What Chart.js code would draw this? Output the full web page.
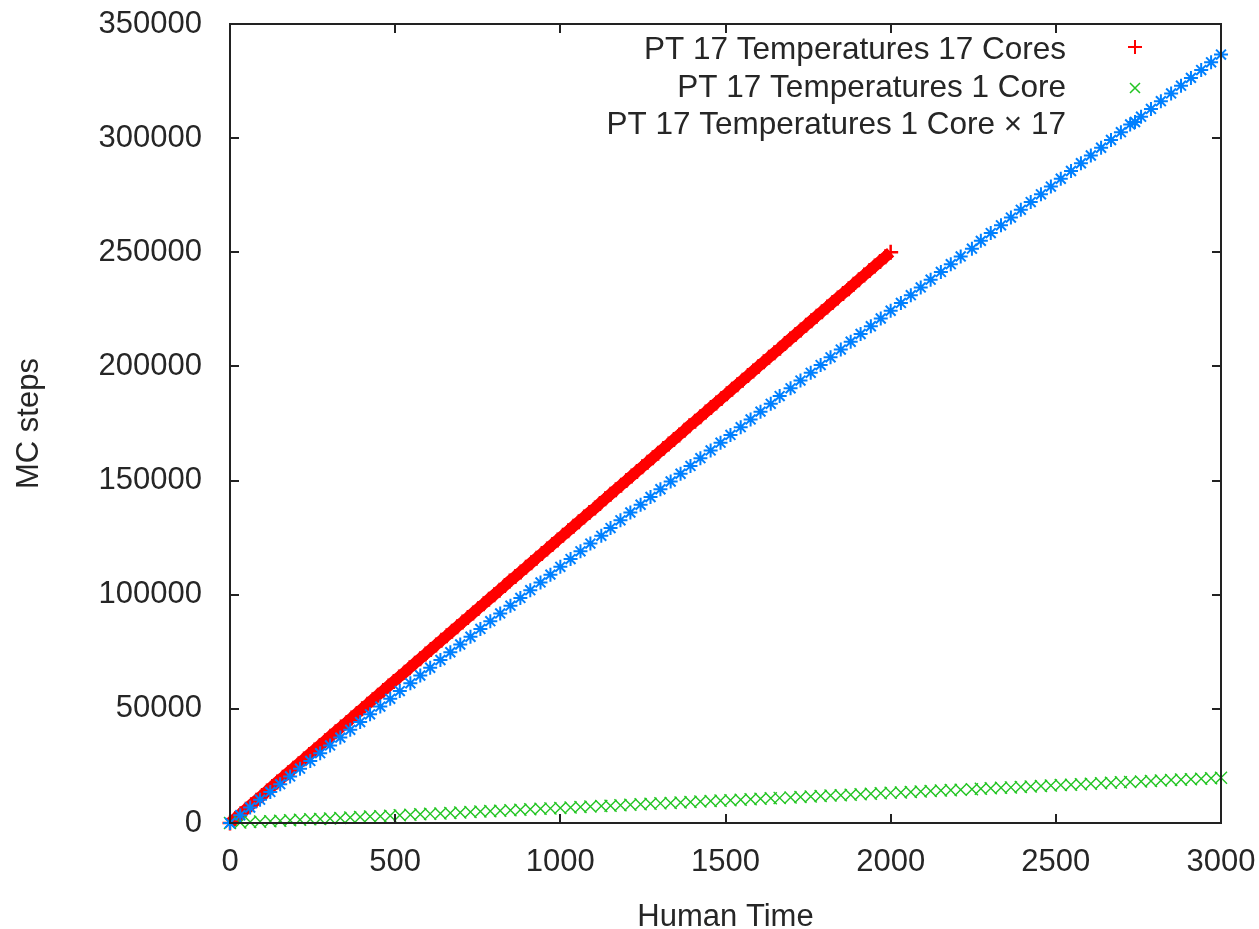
<!DOCTYPE html>
<html>
<head>
<meta charset="utf-8">
<script src="https://cdn.jsdelivr.net/npm/chart.js@4/dist/chart.umd.min.js"></script>
<style>
  html, body { margin: 0; background: #fff; }
  #wrap { width: 1259px; height: 929px; }
</style>
</head>
<body>
<div id="wrap"><canvas id="myChart"></canvas></div>
<script>
// 17 cores : temps (s) et pas MC
const coresTime = [
  0, 16, 32, 48, 64, 80, 97, 112, 128, 143,
  160, 176, 192, 208, 224, 240, 256, 272, 288, 304,
  320, 336, 353, 368, 384, 400, 416, 432, 448, 464,
  480, 496, 512, 529, 544, 560, 576, 592, 608, 624,
  640, 656, 672, 688, 704, 720, 736, 752, 768, 784,
  800, 816, 832, 847, 864, 880, 896, 912, 928, 944,
  960, 976, 992, 1008, 1024, 1040, 1056, 1072, 1088, 1105,
  1120, 1136, 1152, 1168, 1184, 1200, 1216, 1232, 1248, 1264,
  1280, 1296, 1312, 1328, 1344, 1360, 1376, 1391, 1408, 1424,
  1440, 1456, 1472, 1488, 1504, 1520, 1536, 1552, 1568, 1584,
  1600, 1616, 1632, 1648, 1665, 1680, 1696, 1712, 1728, 1744,
  1760, 1776, 1792, 1808, 1824, 1840, 1856, 1873, 1888, 1904,
  1920, 1936, 1952, 1968, 1984, 2000
];
const coresSteps = [
  0, 2000, 4000, 6000, 8000, 10000, 12000, 14000, 16000, 18000,
  20000, 22000, 24000, 26000, 28000, 30000, 32000, 34000, 36000, 38000,
  40000, 42000, 44000, 46000, 48000, 50000, 52000, 54000, 56000, 58000,
  60000, 62000, 64000, 66000, 68000, 70000, 72000, 74000, 76000, 78000,
  80000, 82000, 84000, 86000, 88000, 90000, 92000, 94000, 96000, 98000,
  100000, 102000, 104000, 106000, 108000, 110000, 112000, 114000, 116000, 118000,
  120000, 122000, 124000, 126000, 128000, 130000, 132000, 134000, 136000, 138000,
  140000, 142000, 144000, 146000, 148000, 150000, 152000, 154000, 156000, 158000,
  160000, 162000, 164000, 166000, 168000, 170000, 172000, 174000, 176000, 178000,
  180000, 182000, 184000, 186000, 188000, 190000, 192000, 194000, 196000, 198000,
  200000, 202000, 204000, 206000, 208000, 210000, 212000, 214000, 216000, 218000,
  220000, 222000, 224000, 226000, 228000, 230000, 232000, 234000, 236000, 238000,
  240000, 242000, 244000, 246000, 248000, 250000
];

// 1 core : temps (s), pas MC, et pas MC x 17
const oneTime = [
  0, 31, 61, 91, 122, 152, 182, 212, 243, 273,
  303, 334, 364, 394, 424, 455, 485, 514, 546, 576,
  606, 637, 667, 697, 728, 758, 788, 818, 849, 879,
  909, 940, 970, 1000, 1031, 1061, 1091, 1124, 1152, 1182,
  1212, 1243, 1273, 1303, 1334, 1364, 1394, 1424, 1455, 1485,
  1515, 1546, 1576, 1606, 1637, 1664, 1697, 1727, 1758, 1788,
  1818, 1849, 1879, 1909, 1940, 1970, 2000, 2031, 2061, 2091,
  2121, 2152, 2182, 2212, 2246, 2273, 2303, 2334, 2364, 2394,
  2424, 2455, 2485, 2515, 2546, 2576, 2606, 2637, 2667, 2697,
  2725, 2758, 2788, 2818, 2849, 2879, 2909, 2940, 2970, 3000
];
const oneSteps = [
  0, 200, 400, 600, 800, 1000, 1200, 1400, 1600, 1800,
  2000, 2200, 2400, 2600, 2800, 3000, 3200, 3400, 3600, 3800,
  4000, 4200, 4400, 4600, 4800, 5000, 5200, 5400, 5600, 5800,
  6000, 6200, 6400, 6600, 6800, 7000, 7200, 7400, 7600, 7800,
  8000, 8200, 8400, 8600, 8800, 9000, 9200, 9400, 9600, 9800,
  10000, 10200, 10400, 10600, 10800, 11000, 11200, 11400, 11600, 11800,
  12000, 12200, 12400, 12600, 12800, 13000, 13200, 13400, 13600, 13800,
  14000, 14200, 14400, 14600, 14800, 15000, 15200, 15400, 15600, 15800,
  16000, 16200, 16400, 16600, 16800, 17000, 17200, 17400, 17600, 17800,
  18000, 18200, 18400, 18600, 18800, 19000, 19200, 19400, 19600, 19800
];
const oneSteps17 = [
  0, 3400, 6800, 10200, 13600, 17000, 20400, 23800, 27200, 30600,
  34000, 37400, 40800, 44200, 47600, 51000, 54400, 57800, 61200, 64600,
  68000, 71400, 74800, 78200, 81600, 85000, 88400, 91800, 95200, 98600,
  102000, 105400, 108800, 112200, 115600, 119000, 122400, 125800, 129200, 132600,
  136000, 139400, 142800, 146200, 149600, 153000, 156400, 159800, 163200, 166600,
  170000, 173400, 176800, 180200, 183600, 187000, 190400, 193800, 197200, 200600,
  204000, 207400, 210800, 214200, 217600, 221000, 224400, 227800, 231200, 234600,
  238000, 241400, 244800, 248200, 251600, 255000, 258400, 261800, 265200, 268600,
  272000, 275400, 278800, 282200, 285600, 289000, 292400, 295800, 299200, 302600,
  306000, 309400, 312800, 316200, 319600, 323000, 326400, 329800, 333200, 336600
];

const seriesLabels = [
  'PT 17 Temperatures 17 Cores',
  'PT 17 Temperatures 1 Core',
  'PT 17 Temperatures 1 Core \u00d7 17'
];
const seriesColors = ['#ff0000', '#22c422', '#0080ff'];

const xTicks = [0, 500, 1000, 1500, 2000, 2500, 3000];
const yTicks = [0, 50000, 100000, 150000, 200000, 250000, 300000, 350000];

const textColor = '#262626';
const fontFamily = '"Liberation Sans", Arial, sans-serif';

function toPoints(xs, ys) {
  return xs.map((t, i) => ({x: t, y: ys[i]}));
}

// cadre avec graduations vers l'interieur + legende façon gnuplot
const gnuplotFrame = {
  id: 'gnuplotFrame',
  afterDatasetsDraw(chart) {
    const {ctx, chartArea: a, scales} = chart;
    const x = scales.x, y = scales.y;
    ctx.save();
    ctx.strokeStyle = '#222';
    ctx.lineWidth = 2;
    ctx.strokeRect(a.left, a.top, a.right - a.left, a.bottom - a.top);
    ctx.beginPath();
    xTicks.forEach(v => {
      const px = Math.round(x.getPixelForValue(v));
      ctx.moveTo(px, a.bottom); ctx.lineTo(px, a.bottom - 9);
      ctx.moveTo(px, a.top); ctx.lineTo(px, a.top + 9);
    });
    yTicks.forEach(v => {
      const py = Math.round(y.getPixelForValue(v));
      ctx.moveTo(a.left, py); ctx.lineTo(a.left + 9, py);
      ctx.moveTo(a.right, py); ctx.lineTo(a.right - 9, py);
    });
    ctx.stroke();

    // legende
    const textRight = 1066;
    const markX = 1135;
    const rows = [50, 88, 125];
    ctx.font = '31.5px ' + fontFamily;
    ctx.fillStyle = textColor;
    ctx.textAlign = 'right';
    ctx.textBaseline = 'middle';
    seriesLabels.forEach((lab, i) => {
      ctx.fillText(lab, textRight, rows[i]);
    });
    const r = 7, d = 5;
    // +
    ctx.strokeStyle = seriesColors[0];
    ctx.lineWidth = 2;
    ctx.beginPath();
    ctx.moveTo(markX - r, rows[0] - 3); ctx.lineTo(markX + r, rows[0] - 3);
    ctx.moveTo(markX, rows[0] - 3 - r); ctx.lineTo(markX, rows[0] - 3 + r);
    ctx.stroke();
    // x
    ctx.strokeStyle = seriesColors[1];
    ctx.lineWidth = 1.5;
    ctx.beginPath();
    ctx.moveTo(markX - d, rows[1] - d); ctx.lineTo(markX + d, rows[1] + d);
    ctx.moveTo(markX - d, rows[1] + d); ctx.lineTo(markX + d, rows[1] - d);
    ctx.stroke();
    // *
    ctx.strokeStyle = seriesColors[2];
    ctx.lineWidth = 2;
    ctx.beginPath();
    const yb = rows[2] - 3;
    ctx.moveTo(markX - r, yb); ctx.lineTo(markX + r, yb);
    ctx.moveTo(markX, yb - r); ctx.lineTo(markX, yb + r);
    ctx.moveTo(markX - d, yb - d); ctx.lineTo(markX + d, yb + d);
    ctx.moveTo(markX - d, yb + d); ctx.lineTo(markX + d, yb - d);
    ctx.stroke();
    ctx.restore();
  }
};

new Chart(
  document.getElementById('myChart'),
  {
    type: 'scatter',
    data: {
      datasets: [
        {
          label: seriesLabels[0],
          data: toPoints(coresTime, coresSteps),
          showLine: true,
          borderWidth: 11, // bande pleine comme les points serres de gnuplot
          borderColor: seriesColors[0],
          pointStyle: 'cross',
          pointRadius: 7.5,
          pointBorderWidth: 2.5,
          pointBorderColor: seriesColors[0],
          backgroundColor: seriesColors[0],
          order: 3,
          clip: false,
        },
        {
          label: seriesLabels[1],
          data: toPoints(oneTime, oneSteps),
          pointStyle: 'crossRot',
          pointRadius: 8.5,
          borderWidth: 1.4,
          borderColor: seriesColors[1],
          backgroundColor: seriesColors[1],
          order: 2,
          clip: false,
        },
        {
          label: seriesLabels[2],
          data: toPoints(oneTime, oneSteps17),
          pointStyle: 'star',
          pointRadius: 7,
          borderWidth: 2,
          borderColor: seriesColors[2],
          backgroundColor: seriesColors[2],
          order: 1,
          clip: false,
        }
      ]
    },
    options: {
      responsive: true,
      maintainAspectRatio: false,
      animation: false,
      layout: {
        padding: {top: 24, right: 38, left: 0, bottom: 0}
      },
      scales: {
        x: {
          type: 'linear',
          min: 0,
          max: 3000,
          afterFit: s => {
            s.height = 106;
            s.paddingLeft = 0;
            s.paddingRight = 0;
          },
          afterBuildTicks: s => { s.ticks = xTicks.map(v => ({value: v})); },
          grid: {display: false, drawTicks: false},
          border: {display: false},
          ticks: {
            autoSkip: false,
            maxRotation: 0,
            padding: 21,
            color: textColor,
            font: {family: fontFamily, size: 31},
            callback: v => String(v),
          },
          title: {
            display: true,
            text: 'Human Time',
            color: textColor,
            font: {family: fontFamily, size: 31, lineHeight: 0.75},
            padding: {top: 0, bottom: 0},
          },
        },
        y: {
          type: 'linear',
          min: 0,
          max: 350000,
          afterFit: s => {
            s.width = 230;
            s.paddingTop = 0;
            s.paddingBottom = 0;
          },
          afterBuildTicks: s => { s.ticks = yTicks.map(v => ({value: v})); },
          grid: {display: false, drawTicks: false},
          border: {display: false},
          ticks: {
            autoSkip: false,
            padding: 28,
            color: textColor,
            font: {family: fontFamily, size: 31},
            callback: v => String(v),
          },
          title: {
            display: true,
            text: 'MC steps',
            color: textColor,
            font: {family: fontFamily, size: 31, lineHeight: 1},
            padding: {top: 14, bottom: 0},
          },
        }
      },
      plugins: {
        legend: {display: false},
        tooltip: {enabled: false},
      },
    },
    plugins: [gnuplotFrame]
  }
);
</script>
</body>
</html>
